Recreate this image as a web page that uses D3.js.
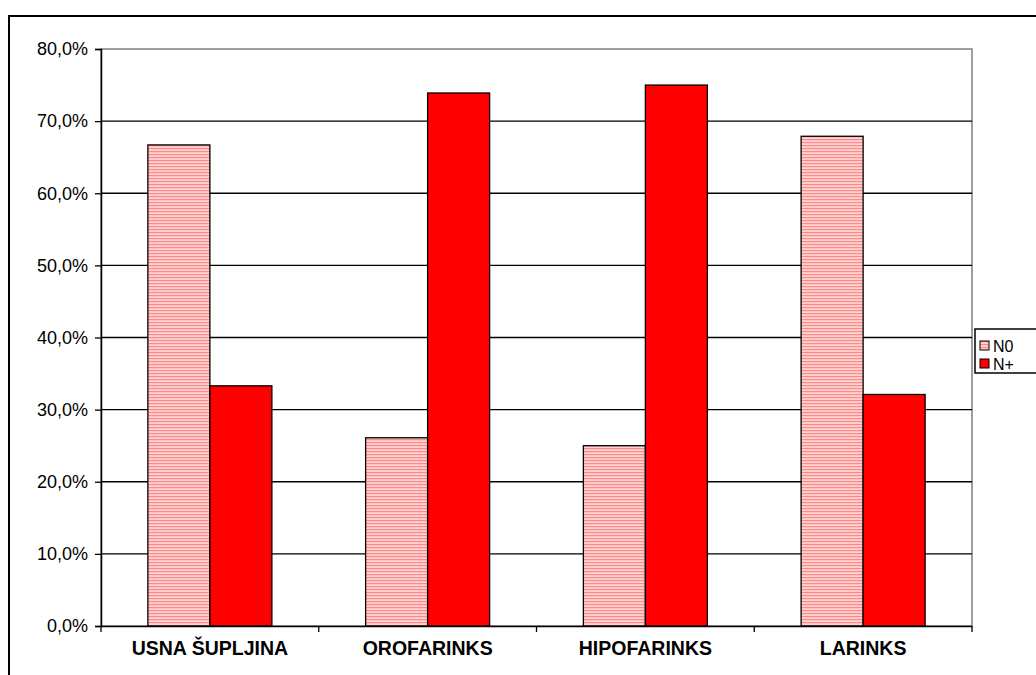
<!DOCTYPE html>
<html>
<head>
<meta charset="utf-8">
<script src="https://cdn.jsdelivr.net/npm/d3@7"></script>
<style>
  body { margin: 0; background: #fff; }
  svg { display: block; font-family: Arial, "Liberation Sans", sans-serif; }
</style>
</head>
<body>
<div id="chart"></div>
<script>
const width = 1036;
const height = 675;

const categories = ["USNA ŠUPLJINA", "OROFARINKS", "HIPOFARINKS", "LARINKS"];
const seriesNames = ["N0", "N+"];
const n0Values = [0.667, 0.261, 0.250, 0.679];
const nPlusValues = [0.333, 0.739, 0.750, 0.321];
const yTicks = [0, 0.1, 0.2, 0.3, 0.4, 0.5, 0.6, 0.7, 0.8];

const plot = { left: 101, right: 972, top: 49, bottom: 626 };

const svg = d3.select("#chart")
  .append("svg")
  .attr("width", width)
  .attr("height", height);

const defs = svg.append("defs");
const pattern = defs.append("pattern")
  .attr("id", "stripes")
  .attr("patternUnits", "userSpaceOnUse")
  .attr("width", 8)
  .attr("height", 3);
pattern.append("rect").attr("width", 8).attr("height", 3).attr("fill", "#ffd2d2");
pattern.append("rect").attr("y", 1).attr("width", 8).attr("height", 1.2).attr("fill", "#ff8a8a");

// outer chart border
svg.append("rect")
  .attr("x", 9)
  .attr("y", 16)
  .attr("width", 1100)
  .attr("height", 700)
  .attr("fill", "none")
  .attr("stroke", "#000")
  .attr("stroke-width", 2);

const y = d3.scaleLinear().domain([0, 0.8]).range([plot.bottom, plot.top]);
const x0 = d3.scaleBand().domain(categories).range([plot.left, plot.right]).padding(0);
const x1 = d3.scaleBand().domain(seriesNames).range([0, x0.bandwidth()])
  .paddingInner(0).paddingOuter(0.756);

const fmt = v => d3.format(".1f")(v * 100).replace(".", ",") + "%";

// plot area border (gray top/right)
svg.append("rect")
  .attr("x", plot.left)
  .attr("y", plot.top)
  .attr("width", plot.right - plot.left)
  .attr("height", plot.bottom - plot.top)
  .attr("fill", "none")
  .attr("stroke", "#808080")
  .attr("stroke-width", 1.5);

// gridlines
svg.append("g")
  .selectAll("line")
  .data(yTicks.filter(t => t > 0 && t < 0.8))
  .join("line")
  .attr("x1", plot.left)
  .attr("x2", plot.right)
  .attr("y1", d => y(d))
  .attr("y2", d => y(d))
  .attr("stroke", "#000")
  .attr("stroke-width", 1.3);

// bars
const data = categories.map((c, i) => ({
  category: c,
  values: [
    { series: "N0", value: n0Values[i] },
    { series: "N+", value: nPlusValues[i] },
  ],
}));

const groups = svg.append("g")
  .selectAll("g")
  .data(data)
  .join("g")
  .attr("transform", d => `translate(${x0(d.category)},0)`);

groups.selectAll("rect")
  .data(d => d.values)
  .join("rect")
  .attr("x", d => x1(d.series))
  .attr("y", d => y(d.value))
  .attr("width", x1.bandwidth())
  .attr("height", d => y(0) - y(d.value))
  .attr("fill", d => d.series === "N0" ? "url(#stripes)" : "#ff0000")
  .attr("stroke", "#000")
  .attr("stroke-width", 1.3);

// y axis
const yAxis = svg.append("g")
  .attr("transform", `translate(${plot.left},0)`)
  .call(d3.axisLeft(y).tickValues(yTicks).tickFormat(fmt).tickSize(6).tickPadding(7));
yAxis.select(".domain").attr("stroke", "#000").attr("stroke-width", 1.5);
yAxis.selectAll(".tick line").attr("stroke", "#000").attr("stroke-width", 1.3);
yAxis.selectAll("text")
  .attr("font-size", 18)
  .attr("fill", "#000")
  .attr("font-family", "Arial, 'Liberation Sans', sans-serif");

// x axis
const xAxis = svg.append("g")
  .attr("transform", `translate(0,${plot.bottom})`)
  .call(d3.axisBottom(x0).tickSize(0).tickPadding(15));
xAxis.select(".domain").attr("stroke", "#000").attr("stroke-width", 1.5);
xAxis.selectAll("text")
  .attr("font-size", 19.5)
  .attr("font-weight", "bold")
  .attr("fill", "#000")
  .attr("font-family", "Arial, 'Liberation Sans', sans-serif");

// category separator ticks
svg.append("g")
  .selectAll("line")
  .data(categories.map((c, i) => i).concat([categories.length]))
  .join("line")
  .attr("x1", i => i < categories.length ? x0(categories[i]) : plot.right)
  .attr("x2", i => i < categories.length ? x0(categories[i]) : plot.right)
  .attr("y1", plot.bottom)
  .attr("y2", plot.bottom + 6)
  .attr("stroke", "#000")
  .attr("stroke-width", 1.3);

// legend
const legend = svg.append("g").attr("transform", "translate(975,329)");
legend.append("rect")
  .attr("x", 0)
  .attr("y", 0)
  .attr("width", 100)
  .attr("height", 44)
  .attr("fill", "#fff")
  .attr("stroke", "#000")
  .attr("stroke-width", 1.5);

const items = legend.selectAll(".item")
  .data(seriesNames)
  .join("g")
  .attr("class", "item")
  .attr("transform", (d, i) => `translate(5,${17 + i * 18})`);

items.append("rect")
  .attr("x", 0)
  .attr("y", -5)
  .attr("width", 9)
  .attr("height", 9)
  .attr("fill", d => d === "N0" ? "url(#stripes)" : "#ff0000")
  .attr("stroke", "#000")
  .attr("stroke-width", 1);

items.append("text")
  .attr("x", 13)
  .attr("y", 0)
  .attr("dy", "0.35em")
  .attr("font-size", 16)
  .text(d => d);
</script>
</body>
</html>
